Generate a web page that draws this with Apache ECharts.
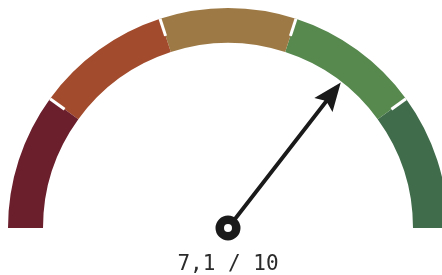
<!DOCTYPE html>
<html>
<head>
<meta charset="utf-8">
<script src="https://cdn.jsdelivr.net/npm/echarts@6/dist/echarts.min.js"></script>
<style>
  html, body { margin: 0; padding: 0; background: #fff; }
  #chart-container { width: 442px; height: 275px; }
</style>
</head>
<body>
<div id="chart-container"></div>
<script>
// score shown on the dial
var score = [7.1];
var scoreMax = 10;
// band ends (fraction of the dial) and colours, left to right
var bandEnds = [0.2, 0.4, 0.6, 0.8, 1];
var bandColors = ['#6b1f2d', '#a34c2d', '#9d7a45', '#57894f', '#416c4c'];

var chartDom = document.getElementById('chart-container');
var myChart = echarts.init(chartDom);

var bands = bandEnds.map(function (end, i) {
  return [end, bandColors[i]];
});

option = {
  series: [
    {
      type: 'gauge',
      center: [228, 228],
      radius: 220,
      startAngle: 180,
      endAngle: 0,
      min: 0,
      max: scoreMax,
      splitNumber: 5,
      axisLine: {
        lineStyle: {
          width: 35,
          color: bands
        }
      },
      splitLine: { show: false },
      axisTick: { show: false },
      axisLabel: { show: false },
      pointer: {
        icon: 'path://M12 0 L24 28 L14 24 L14 182 L10 182 L10 24 L0 28 Z',
        length: 184,
        width: 23,
        offsetCenter: [0, 0],
        itemStyle: { color: '#1a1a1a' }
      },
      anchor: {
        show: true,
        showAbove: true,
        size: 16.5,
        itemStyle: {
          color: '#fff',
          borderColor: '#1a1a1a',
          borderWidth: 8.5
        }
      },
      title: { show: false },
      detail: {
        offsetCenter: [0, 37],
        fontFamily: 'DejaVu Sans Mono',
        fontSize: 21,
        fontWeight: 'normal',
        color: '#2b2b2b',
        formatter: function (v) {
          return String(v).replace('.', ',') + ' / ' + scoreMax;
        }
      },
      data: score.map(function (v) { return { value: v }; })
    },
    // white separators between the bands only (no marks at the two ends)
    {
      type: 'gauge',
      center: [228, 228],
      radius: 220,
      startAngle: 144,
      endAngle: 36,
      min: 2,
      max: 8,
      splitNumber: 3,
      axisLine: { show: false, lineStyle: { width: 35 } },
      splitLine: {
        distance: -35,
        length: 18,
        lineStyle: {
          color: '#fff',
          width: 3
        }
      },
      axisTick: { show: false },
      axisLabel: { show: false },
      pointer: { show: false },
      anchor: { show: false },
      title: { show: false },
      detail: { show: false },
      data: []
    }
  ]
};

option && myChart.setOption(option);
</script>
</body>
</html>
